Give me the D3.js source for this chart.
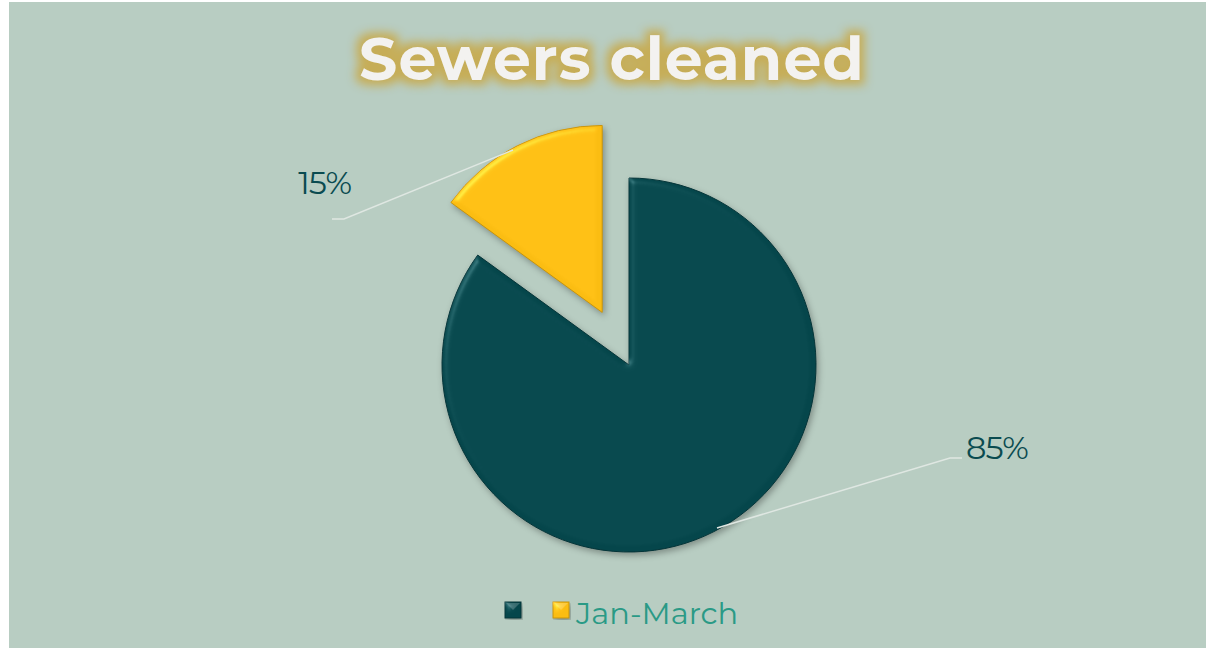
<!DOCTYPE html>
<html>
<head>
<meta charset="utf-8">
<script src="https://cdn.jsdelivr.net/npm/d3@7"></script>
<style>
  html, body { margin: 0; padding: 0; background: #fff; }
  svg { display: block; }
</style>
</head>
<body>
<div id="chart"></div>
<script>
// chart data
const categories = ["", "Jan-March"];
const values = [85, 15];
const labels = ["85%", "15%"];
const explode = [0, 1];

const width = 1206;
const height = 652;
const cx = 629, cy = 365, radius = 187;

const colors = ["#05464b", "#fbbd12"];
const edgeColors = ["#043438", "#c8940c"];

const svg = d3.select("#chart").append("svg")
    .attr("width", width)
    .attr("height", height);

const defs = svg.append("defs");

// glow behind title
const glow = defs.append("filter").attr("id", "glow")
    .attr("color-interpolation-filters", "sRGB")
    .attr("x", "-20%").attr("y", "-50%").attr("width", "140%").attr("height", "200%");
glow.append("feMorphology").attr("in", "SourceAlpha").attr("operator", "dilate").attr("radius", 5).attr("result", "dil");
glow.append("feGaussianBlur").attr("in", "dil").attr("stdDeviation", 5).attr("result", "blur");
glow.append("feFlood").attr("flood-color", "#c6ad57").attr("flood-opacity", 1);
glow.append("feComposite").attr("in2", "blur").attr("operator", "in").attr("result", "glowc");
const gm = glow.append("feMerge");
gm.append("feMergeNode").attr("in", "glowc");
gm.append("feMergeNode").attr("in", "SourceGraphic");

// bevel + shadow for slices
const bevel = defs.append("filter").attr("id", "bevel")
    .attr("color-interpolation-filters", "sRGB")
    .attr("x", "-10%").attr("y", "-10%").attr("width", "120%").attr("height", "120%");
bevel.append("feGaussianBlur").attr("in", "SourceAlpha").attr("stdDeviation", 3).attr("result", "blur");
bevel.append("feOffset").attr("in", "blur").attr("dx", 2).attr("dy", 3).attr("result", "off");
bevel.append("feFlood").attr("flood-color", "#000").attr("flood-opacity", 0.3);
bevel.append("feComposite").attr("in2", "off").attr("operator", "in").attr("result", "shadow");
bevel.append("feSpecularLighting").attr("in", "blur").attr("surfaceScale", 3)
    .attr("specularConstant", 0.6).attr("specularExponent", 30)
    .attr("lighting-color", "#ffffff").attr("result", "spec")
  .append("feDistantLight").attr("azimuth", 225).attr("elevation", 45);
bevel.append("feComposite").attr("in", "spec").attr("in2", "SourceAlpha").attr("operator", "in").attr("result", "specIn");
bevel.append("feComposite").attr("in", "SourceGraphic").attr("in2", "specIn")
    .attr("operator", "arithmetic").attr("k1", 0).attr("k2", 1).attr("k3", 0.3).attr("k4", 0).attr("result", "lit");
const bm = bevel.append("feMerge");
bm.append("feMergeNode").attr("in", "shadow");
bm.append("feMergeNode").attr("in", "lit");

// background
svg.append("rect")
    .attr("x", 9).attr("y", 2)
    .attr("width", width - 9).attr("height", 646)
    .attr("fill", "#b8cdc2");

// title
svg.append("text")
    .attr("x", 612).attr("y", 80)
    .attr("text-anchor", "middle")
    .attr("font-family", "Montserrat, 'Open Sans', sans-serif")
    .attr("font-weight", "bold")
    .attr("font-size", 60)
    .attr("letter-spacing", 1)
    .attr("fill", "#f3f2f0")
    .attr("filter", "url(#glow)")
    .text("Sewers cleaned");

const pie = d3.pie().sort(null).value(d => d)(values);
const arc = d3.arc().innerRadius(0).outerRadius(radius);
const explodeDist = 59;

const g = svg.append("g").attr("transform", `translate(${cx},${cy})`);

const slices = g.selectAll("g.slice")
  .data(pie)
  .enter().append("g")
    .attr("class", "slice")
    .attr("transform", (d, i) => {
        const a = (d.startAngle + d.endAngle) / 2;
        const k = explode[i] ? explodeDist : 0;
        return `translate(${Math.sin(a) * k},${-Math.cos(a) * k})`;
    });

slices.append("path")
    .attr("d", arc)
    .attr("fill", (d, i) => colors[i])
    .attr("stroke", (d, i) => edgeColors[i])
    .attr("stroke-width", 1)
    .attr("filter", "url(#bevel)");

// labels with leader lines
const labelPos = [
    { text: [966, 459], line: [[717, 528], [950, 458], [962, 458]], anchor: "start" },
    { text: [351, 194], line: [[513, 150], [344, 219], [332, 219]], anchor: "end" }
];

pie.forEach((d, i) => {
    const p = labelPos[i];
    svg.append("polyline")
        .attr("points", p.line.map(q => q.join(",")).join(" "))
        .attr("fill", "none")
        .attr("stroke", "#dfe7e2")
        .attr("stroke-width", 1.5);
    svg.append("text")
        .attr("x", p.text[0]).attr("y", p.text[1])
        .attr("text-anchor", p.anchor)
        .attr("font-family", "Montserrat, 'Open Sans', sans-serif")
        .attr("font-size", 32)
        .attr("letter-spacing", -1)
        .attr("fill", "#0a4b50")
        .text(labels[i]);
});

// legend
const legendX = [505, 553];
const legend = svg.append("g");
categories.forEach((c, i) => {
    const lg = legend.append("g").attr("transform", `translate(${legendX[i]},602)`);
    lg.append("rect")
        .attr("width", 16).attr("height", 16)
        .attr("fill", colors[i])
        .attr("stroke", edgeColors[i])
        .attr("stroke-width", 1)
        .attr("filter", "url(#bevel)");
    lg.append("path")
        .attr("d", "M1,1 L15,1 L8,8 Z")
        .attr("fill", "#ffffff").attr("opacity", 0.2);
    if (c) {
        lg.append("text")
            .attr("x", 23).attr("y", 22)
            .attr("font-family", "Montserrat, 'Open Sans', sans-serif")
            .attr("font-size", 30.5)
            .attr("fill", "#2a9a86")
            .text(c);
    }
});
</script>
</body>
</html>
